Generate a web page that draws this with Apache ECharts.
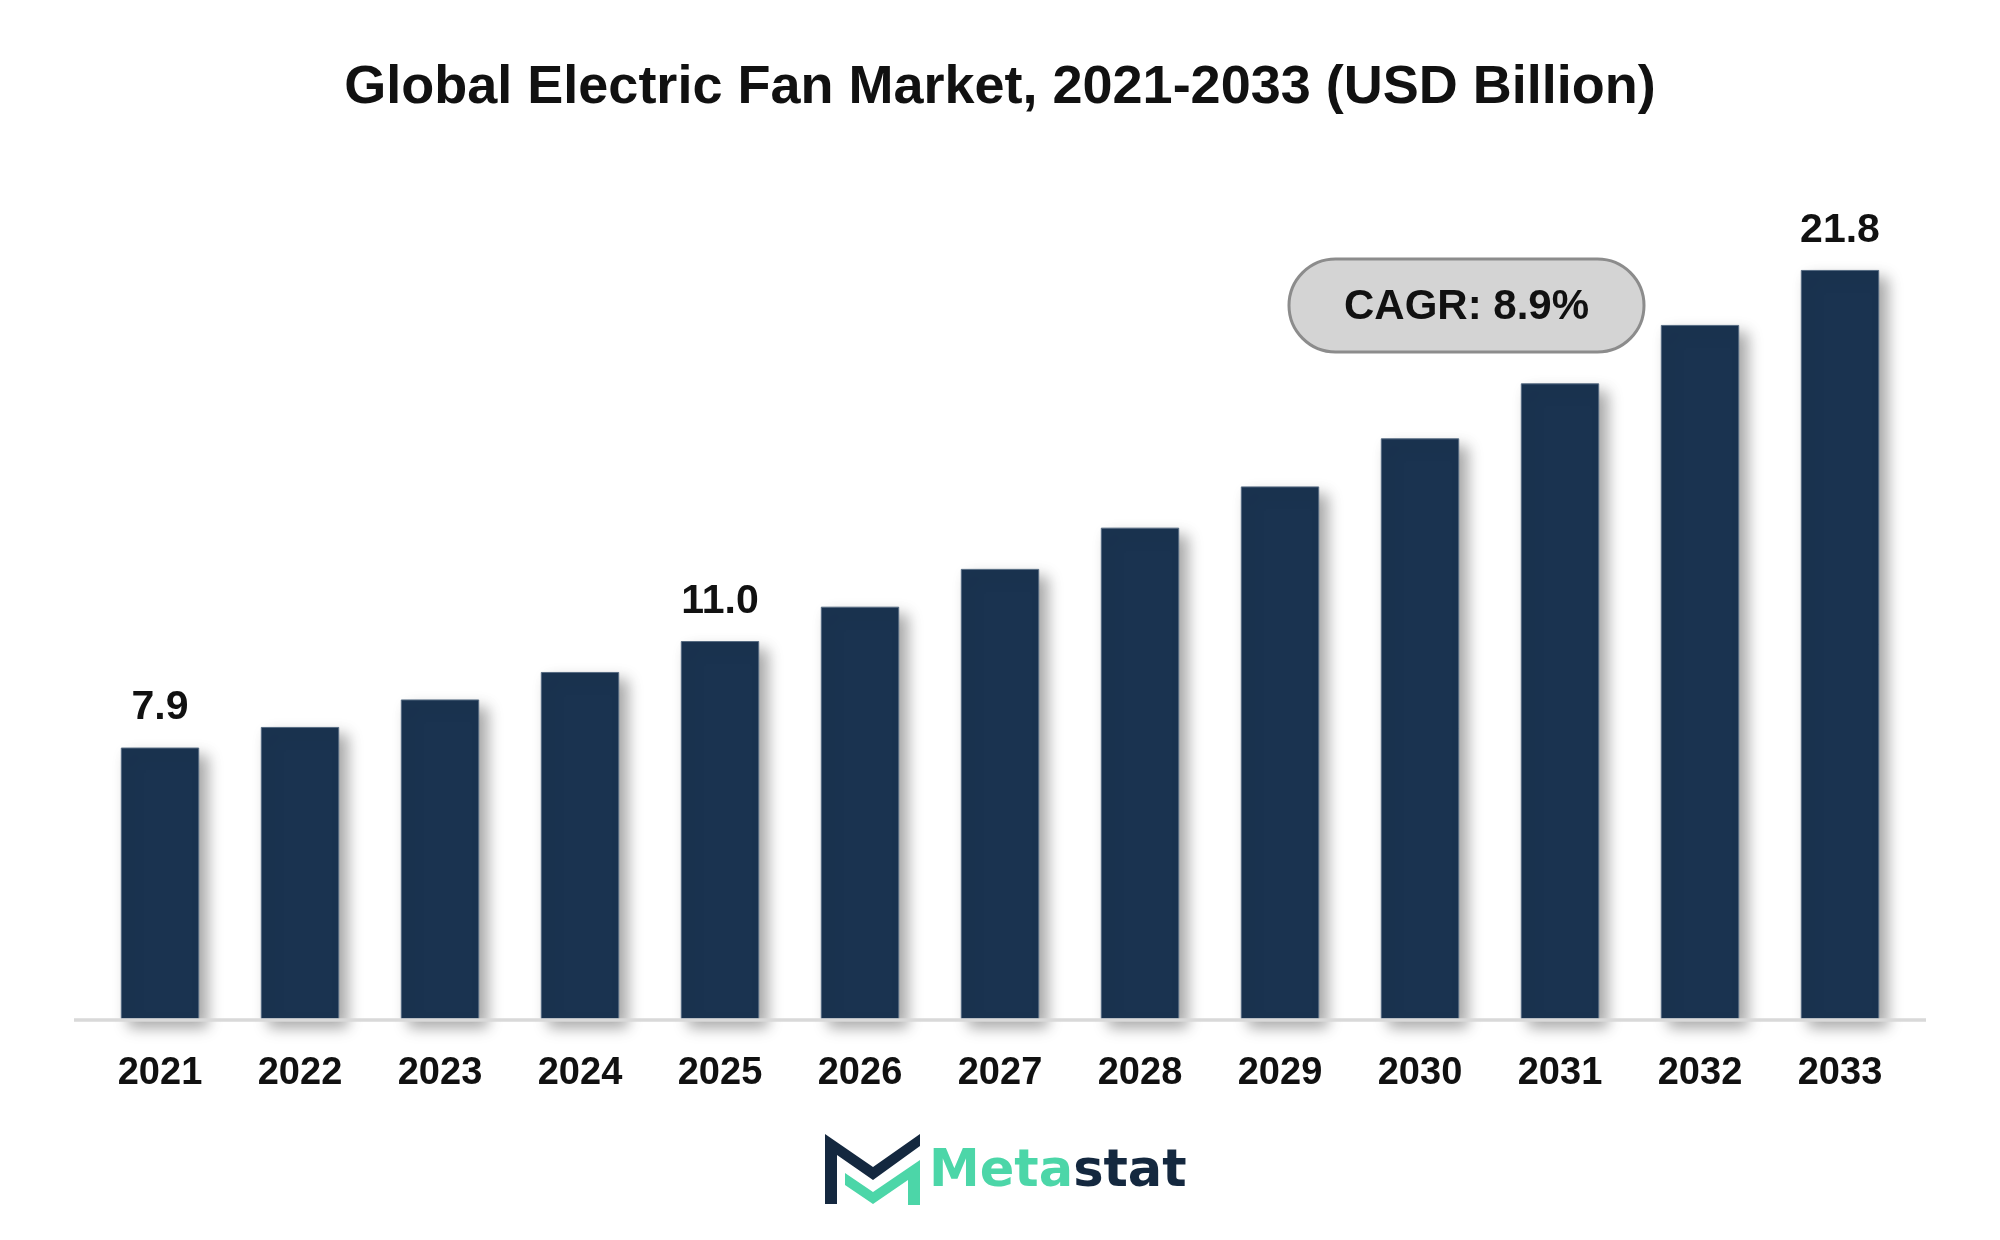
<!DOCTYPE html>
<html>
<head>
<meta charset="utf-8">
<script src="https://cdn.jsdelivr.net/npm/echarts@6/dist/echarts.min.js"></script>
<style>
html,body{margin:0;padding:0;background:#fff;}
#chart{width:2000px;height:1240px;}
</style>
</head>
<body>
<div id="chart"></div>
<script>
var categories = ['2021','2022','2023','2024','2025','2026','2027','2028','2029','2030','2031','2032','2033'];
var values = [7.9, 8.5, 9.3, 10.1, 11.0, 12.0, 13.1, 14.3, 15.5, 16.9, 18.5, 20.2, 21.8];
var labeledYears = ['2021','2025','2033'];
var titleText = 'Global Electric Fan Market, 2021-2033 (USD Billion)';
var cagrText = 'CAGR: 8.9%';

var FONT = '"Liberation Sans", Arial, sans-serif';
var chart = echarts.init(document.getElementById('chart'));

var seriesData = values.map(function (v, i) {
  var show = labeledYears.indexOf(categories[i]) >= 0;
  return {
    value: v,
    label: {
      show: show,
      position: 'top',
      distance: 19,
      formatter: function (p) { return p.value.toFixed(1); },
      color: '#111111',
      fontSize: 41,
      fontWeight: 'bold',
      fontFamily: FONT
    }
  };
});

var navy = '#14283f';
var mint = '#4cd6a8';
var ox = 825, oy = 1134; // logo origin
function pts(arr) { return arr.map(function (p) { return [ox + p[0], oy + p[1]]; }); }

chart.setOption({
  backgroundColor: '#ffffff',
  animation: false,
  title: {
    text: titleText,
    left: 'center',
    top: 56,
    textStyle: { fontSize: 54, fontWeight: 'bold', color: '#111111', fontFamily: FONT }
  },
  grid: { left: 90, right: 90, top: 160, bottom: 221, containLabel: false },
  xAxis: {
    type: 'category',
    data: categories,
    axisLine: { show: false },
    axisTick: { show: false },
    axisLabel: {
      margin: 36,
      color: '#111111',
      fontSize: 38,
      fontWeight: 'bold',
      fontFamily: FONT
    }
  },
  yAxis: {
    type: 'value',
    min: 0,
    max: 25,
    show: false,
    splitLine: { show: false }
  },
  series: [{
    type: 'bar',
    data: seriesData,
    barWidth: '56%',
    itemStyle: {
      color: '#1a3350',
      borderColor: '#566b82',
      borderWidth: 1,
      shadowColor: 'rgba(0,0,0,0.35)',
      shadowBlur: 14,
      shadowOffsetX: 8,
      shadowOffsetY: 8
    }
  }],
  graphic: [
    {
      type: 'line',
      z: 100,
      shape: { x1: 74, y1: 1020, x2: 1926, y2: 1020 },
      style: { stroke: '#d9d9d9', lineWidth: 3.5 }
    },
    {
      type: 'rect',
      z: 100,
      shape: { x: 1289, y: 259, width: 355, height: 93, r: 46.5 },
      style: { fill: '#d4d4d4', stroke: '#8c8c8c', lineWidth: 3 }
    },
    {
      type: 'text',
      z: 101,
      x: 1466.5, y: 307,
      style: {
        text: cagrText,
        fill: '#111111',
        font: 'bold 42px ' + FONT,
        textAlign: 'center',
        textVerticalAlign: 'middle'
      }
    },
    {
      type: 'polygon',
      z: 100,
      shape: { points: pts([[0,0],[48,33],[95,0],[95,12],[48,46],[12,21],[12,70],[0,70]]) },
      style: { fill: navy }
    },
    {
      type: 'polygon',
      z: 100,
      shape: { points: pts([[20,39],[48,58],[95,26],[95,71],[83,71],[83,46],[48,70],[20,51]]) },
      style: { fill: mint }
    },
    {
      type: 'text',
      z: 100,
      x: 929, y: 1173,
      style: {
        text: '{a|Meta}{b|stat}',
        rich: {
          a: { fill: mint, font: 'bold 51px "DejaVu Sans", sans-serif' },
          b: { fill: navy, font: 'bold 51px "DejaVu Sans", sans-serif' }
        },
        textVerticalAlign: 'middle'
      }
    }
  ]
});
</script>
</body>
</html>
